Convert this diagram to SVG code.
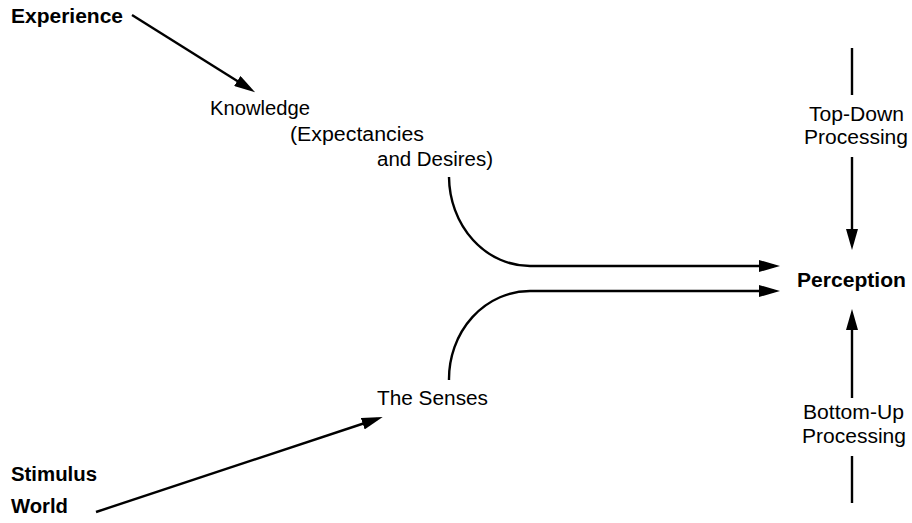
<svg xmlns="http://www.w3.org/2000/svg" width="912" height="523" viewBox="0 0 912 523">
<style>
text{font-family:"Liberation Sans",Arial,Helvetica,sans-serif;font-size:20px;fill:#000}
.b{font-weight:bold}
.ln{fill:none;stroke:#000;stroke-width:2.4}
</style>
<defs>
<marker id="ah" markerUnits="userSpaceOnUse" markerWidth="21" markerHeight="12" refX="15" refY="6" orient="auto">
<path d="M0,0 L21,6 L0,12 z" fill="#000"/>
</marker>
</defs>
<rect width="912" height="523" fill="#fff"/>
<g id="experience"><text class="b" x="11" y="23" textLength="112" lengthAdjust="spacingAndGlyphs">Experience</text></g>
<g id="knowledge">
<text x="210" y="115" textLength="100" lengthAdjust="spacingAndGlyphs">Knowledge</text>
<text x="290" y="141" textLength="134" lengthAdjust="spacingAndGlyphs">(Expectancies</text>
<text x="377" y="166" textLength="116" lengthAdjust="spacingAndGlyphs">and Desires)</text>
</g>
<g id="senses"><text x="377" y="405" textLength="111" lengthAdjust="spacingAndGlyphs">The Senses</text></g>
<g id="perception"><text class="b" x="797" y="287" textLength="109" lengthAdjust="spacingAndGlyphs">Perception</text></g>
<g id="topdown">
<text x="809" y="121" textLength="95" lengthAdjust="spacingAndGlyphs">Top-Down</text>
<text x="804" y="144" textLength="104" lengthAdjust="spacingAndGlyphs">Processing</text>
</g>
<g id="bottomup">
<text x="803" y="419" textLength="101" lengthAdjust="spacingAndGlyphs">Bottom-Up</text>
<text x="802" y="443" textLength="104" lengthAdjust="spacingAndGlyphs">Processing</text>
</g>
<g id="stimulus">
<text class="b" x="11" y="481" textLength="86" lengthAdjust="spacingAndGlyphs">Stimulus</text>
<text class="b" x="11" y="513" textLength="57" lengthAdjust="spacingAndGlyphs">World</text>
</g>
<g id="connectors">
<line class="ln" x1="132" y1="15" x2="250" y2="89" marker-end="url(#ah)"/>
<line class="ln" x1="96" y1="512" x2="377" y2="419" marker-end="url(#ah)"/>
<path class="ln" d="M449,177 A81,90 0 0 0 530,266 L774,266" marker-end="url(#ah)"/>
<path class="ln" d="M449,380 A81,88 0 0 1 530,291 L774,291" marker-end="url(#ah)"/>
<line class="ln" x1="852" y1="48" x2="852" y2="95"/>
<line class="ln" x1="852" y1="157" x2="852" y2="244" marker-end="url(#ah)"/>
<line class="ln" x1="852" y1="398" x2="852" y2="315" marker-end="url(#ah)"/>
<line class="ln" x1="852" y1="456" x2="852" y2="503"/>
</g>
</svg>
